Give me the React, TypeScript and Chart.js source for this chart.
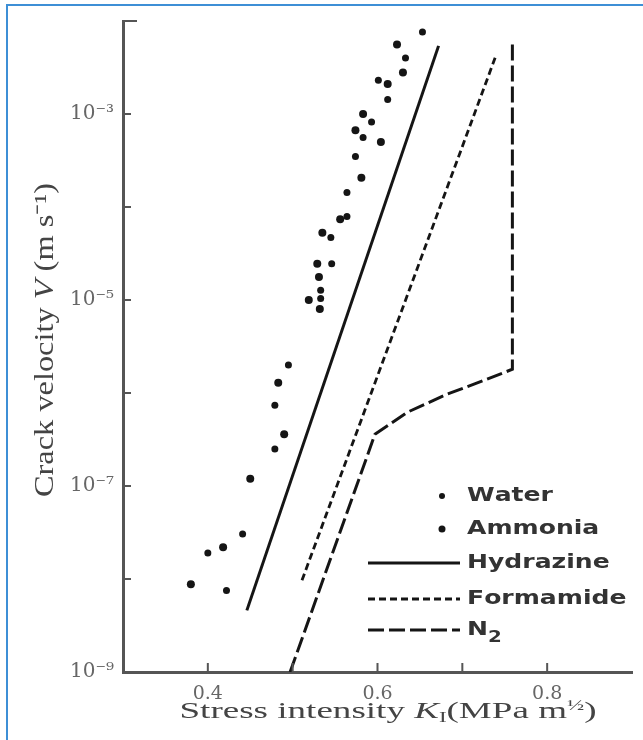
import React, { useEffect, useRef } from "react";
import { Chart, registerables } from "chart.js";

Chart.register(...registerables);

// ---------- data ----------
const waterK = [0.653, 0.633, 0.601, 0.612, 0.593, 0.583, 0.574, 0.564, 0.564, 0.545, 0.546, 0.533, 0.533, 0.495, 0.479, 0.479, 0.441, 0.4, 0.422];
const waterV = [7.6e-3, 4.0e-3, 2.3e-3, 1.43e-3, 8.2e-4, 5.6e-4, 3.5e-4, 1.43e-4, 7.9e-5, 4.7e-5, 2.45e-5, 1.27e-5, 1.04e-5, 2.0e-6, 7.4e-7, 2.5e-7, 3.05e-8, 1.9e-8, 7.5e-9];

const ammoniaK = [0.623, 0.63, 0.612, 0.583, 0.574, 0.604, 0.581, 0.556, 0.535, 0.529, 0.531, 0.519, 0.532, 0.483, 0.49, 0.45, 0.418, 0.38];
const ammoniaV = [5.6e-3, 2.8e-3, 2.1e-3, 1.0e-3, 6.7e-4, 5.0e-4, 2.06e-4, 7.4e-5, 5.3e-5, 2.45e-5, 1.77e-5, 1.0e-5, 8.0e-6, 1.29e-6, 3.6e-7, 1.2e-7, 2.2e-8, 8.8e-9];

const hydrazineK = [0.446, 0.672];
const hydrazineV = [4.6e-9, 5.4e-3];

const formamideK = [0.511, 0.739];
const formamideV = [9.7e-9, 4.1e-3];

const n2K = [0.497, 0.597, 0.635, 0.682, 0.724, 0.759, 0.759];
const n2V = [1e-9, 3.6e-7, 6.2e-7, 9.7e-7, 1.35e-6, 1.8e-6, 6e-3];

const seriesLabels = ["Water", "Ammonia", "Hydrazine", "Formamide", "N₂"];

// axes
const xMin = 0.3;
const xMax = 0.9;
const xStep = 0.1;
const xLabeled = [0.4, 0.6, 0.8];
const yDecades = [-9, -8, -7, -6, -5, -4, -3, -2];
const yLabeledExponents = [-3, -5, -7, -9];

const toPoints = (xs: number[], ys: number[]) => xs.map((x, i) => ({ x, y: ys[i] }));

const SUP: Record<string, string> = {
  "-": "⁻", "0": "⁰", "1": "¹", "2": "²", "3": "³", "4": "⁴",
  "5": "⁵", "6": "⁶", "7": "⁷", "8": "⁸", "9": "⁹",
};
const powLabel = (e: number) => "10" + String(e).split("").map((c) => SUP[c] || c).join("");

// ---------- styles ----------
const INK = "#151515";
const AXIS = "#555";
const TEXT = "#444";

type Seg = { text: string; italic?: boolean; scale?: number; dy?: number };
const xTitleSegs: Seg[] = [
  { text: "Stress intensity " },
  { text: "K", italic: true },
  { text: "I", scale: 0.6, dy: 4 },
  { text: "(MPa m" },
  { text: "½", scale: 0.6, dy: -8 },
  { text: ")" },
];
const yTitleSegs: Seg[] = [
  { text: "Crack velocity " },
  { text: "V", italic: true },
  { text: " (m s" },
  { text: "⁻¹" },
  { text: ")" },
];

function drawRich(ctx: CanvasRenderingContext2D, segs: Seg[], size: number, family: string, targetLen: number, perp: number) {
  const fontOf = (s: Seg) => `${s.italic ? "italic " : ""}${Math.round(size * (s.scale || 1))}px ${family}`;
  let total = 0;
  const widths = segs.map((s) => {
    ctx.font = fontOf(s);
    const w = ctx.measureText(s.text).width;
    total += w;
    return w;
  });
  ctx.scale(targetLen / total, perp);
  let x = -total / 2;
  ctx.textBaseline = "alphabetic";
  ctx.textAlign = "left";
  segs.forEach((s, i) => {
    ctx.font = fontOf(s);
    ctx.fillText(s.text, x, s.dy || 0);
    x += widths[i];
  });
}

const titlesPlugin = {
  id: "richTitles",
  afterDraw(chart: any) {
    const ctx: CanvasRenderingContext2D = chart.ctx;
    ctx.save();
    ctx.fillStyle = TEXT;
    ctx.translate(388, 718);
    drawRich(ctx, xTitleSegs, 21, '"Liberation Serif", serif', 417, 1.05);
    ctx.restore();

    ctx.save();
    ctx.fillStyle = TEXT;
    ctx.translate(53, 340);
    ctx.rotate(-Math.PI / 2);
    drawRich(ctx, yTitleSegs, 23, '"Liberation Serif", serif', 314, 1.15);
    ctx.restore();
  },
};

const innerTicksPlugin = {
  id: "innerTicks",
  afterDraw(chart: any) {
    const { ctx, chartArea, scales } = chart;
    ctx.save();
    ctx.strokeStyle = AXIS;
    ctx.lineWidth = 2;
    ctx.beginPath();
    scales.x.ticks.forEach((t: any) => {
      if (t.value <= xMin + 1e-9 || t.value >= xMax - 1e-9) return;
      const px = scales.x.getPixelForValue(t.value);
      ctx.moveTo(px, chartArea.bottom);
      ctx.lineTo(px, chartArea.bottom - 9);
    });
    scales.y.ticks.forEach((t: any) => {
      const e = Math.round(Math.log10(t.value));
      if (e <= yDecades[0]) return;
      const py = scales.y.getPixelForValue(t.value);
      const len = e === yDecades[yDecades.length - 1] ? 14 : 8;
      ctx.moveTo(chartArea.left, py);
      ctx.lineTo(chartArea.left + len, py);
    });
    ctx.stroke();
    ctx.restore();
  },
};

const legendRows = [496, 529, 563, 599, 630];
const legendPlugin = {
  id: "innerLegend",
  afterDraw(chart: any) {
    const ctx: CanvasRenderingContext2D = chart.ctx;
    chart.data.datasets.forEach((ds: any, i: number) => {
      const y = legendRows[i];
      ctx.save();
      if (ds.showLine) {
        ctx.strokeStyle = ds.borderColor;
        ctx.lineWidth = ds.borderWidth;
        ctx.setLineDash(ds.borderDash || []);
        ctx.beginPath();
        ctx.moveTo(368, y);
        ctx.lineTo(460, y);
        ctx.stroke();
      } else {
        ctx.fillStyle = ds.backgroundColor;
        ctx.beginPath();
        ctx.arc(442, y, ds.pointRadius - 0.5, 0, Math.PI * 2);
        ctx.fill();
      }
      ctx.translate(467, y);
      ctx.scale(1.32, 1.05);
      ctx.fillStyle = "#333";
      ctx.textBaseline = "middle";
      ctx.textAlign = "left";
      let x = 0;
      for (const ch of ds.label as string) {
        if (ch === "₂") {
          ctx.font = 'bold 15px "DejaVu Sans"';
          ctx.fillText("2", x, 8);
          x += ctx.measureText("2").width;
        } else {
          ctx.font = 'bold 19px "DejaVu Sans"';
          ctx.fillText(ch, x, 0);
          x += ctx.measureText(ch).width;
        }
      }
      ctx.restore();
    });
  },
};

export default function App() {
  const ref = useRef<HTMLCanvasElement>(null);

  useEffect(() => {
    if (!ref.current) return;
    const chart = new Chart(ref.current, {
      type: "scatter",
      data: {
        datasets: [
          {
            label: seriesLabels[0],
            data: toPoints(waterK, waterV),
            showLine: false,
            pointRadius: 3.5,
            backgroundColor: INK,
            borderColor: INK,
            borderWidth: 0,
          },
          {
            label: seriesLabels[1],
            data: toPoints(ammoniaK, ammoniaV),
            showLine: false,
            pointRadius: 4,
            backgroundColor: INK,
            borderColor: INK,
            borderWidth: 0,
          },
          {
            label: seriesLabels[2],
            data: toPoints(hydrazineK, hydrazineV),
            showLine: true,
            pointRadius: 0,
            borderColor: INK,
            borderWidth: 3,
          },
          {
            label: seriesLabels[3],
            data: toPoints(formamideK, formamideV),
            showLine: true,
            pointRadius: 0,
            borderColor: INK,
            borderWidth: 2.8,
            borderDash: [7, 4],
          },
          {
            label: seriesLabels[4],
            data: toPoints(n2K, n2V),
            showLine: true,
            pointRadius: 0,
            borderColor: INK,
            borderWidth: 3,
            borderDash: [16, 5],
          },
        ] as any,
      },
      options: {
        animation: false,
        responsive: false,
        devicePixelRatio: 1,
        layout: { padding: { left: 0, top: 15, right: 6, bottom: 0 } },
        plugins: { legend: { display: false }, tooltip: { enabled: false } },
        scales: {
          x: {
            type: "linear",
            min: xMin,
            max: xMax,
            grid: { display: false, drawTicks: false },
            border: { display: true, color: AXIS, width: 3 },
            ticks: {
              stepSize: xStep,
              autoSkip: false,
              maxRotation: 0,
              padding: 11,
              color: "#666",
              font: { family: '"DejaVu Serif", serif', size: 19 },
              callback: (v: any) => {
                const r = Math.round(Number(v) * 10) / 10;
                return xLabeled.includes(r) ? r.toFixed(1) : "";
              },
            },
            afterFit: (s: any) => {
              s.height = 68;
            },
          },
          y: {
            type: "logarithmic",
            min: Math.pow(10, yDecades[0]),
            max: Math.pow(10, yDecades[yDecades.length - 1]),
            grid: { display: false, drawTicks: false },
            border: { display: true, color: AXIS, width: 3 },
            afterBuildTicks: (s: any) => {
              s.ticks = yDecades.map((e) => ({ value: Math.pow(10, e) }));
            },
            ticks: {
              autoSkip: false,
              padding: 9,
              color: "#666",
              font: { family: '"DejaVu Serif", serif', size: 20 },
              callback: (v: any) => {
                const e = Math.round(Math.log10(Number(v)));
                return yLabeledExponents.includes(e) ? powLabel(e) : "";
              },
            },
            afterFit: (s: any) => {
              s.width = 123;
            },
          },
        },
      } as any,
      plugins: [innerTicksPlugin, legendPlugin, titlesPlugin],
    });
    return () => chart.destroy();
  }, []);

  return (
    <div
      style={{
        position: "fixed",
        left: 0,
        top: 0,
        width: 643,
        height: 740,
        overflow: "hidden",
        background: "#fff",
      }}
    >
      <canvas
        ref={ref}
        width={643}
        height={740}
        style={{ position: "absolute", left: 0, top: 0, width: 643, height: 740 }}
      />
      <div
        style={{
          position: "absolute",
          left: 6,
          top: 4,
          width: 700,
          height: 800,
          borderTop: "2px solid #3d8fd6",
          borderLeft: "2px solid #3d8fd6",
          pointerEvents: "none",
        }}
      />
    </div>
  );
}
